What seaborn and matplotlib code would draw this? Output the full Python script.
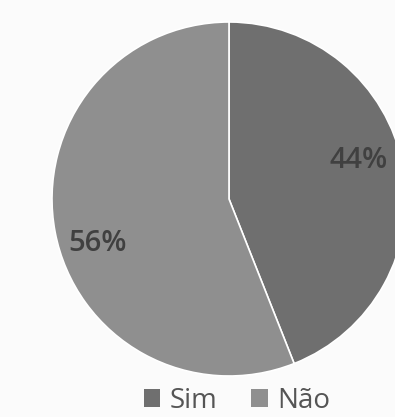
import matplotlib
matplotlib.use("Agg")
import matplotlib.pyplot as plt
import seaborn as sns

# Survey answers
categories = ["Sim", "Não"]
shares = [44, 56]
slice_colors = ["#6f6f6f", "#8f8f8f"]

sns.set_style("white")
plt.rcParams["font.family"] = ["Open Sans", "DejaVu Sans"]

fig = plt.figure(figsize=(3.95, 4.17), dpi=100)
fig.patch.set_facecolor("#fbfbfb")

# Square axes, pie of radius 1 fills it; right side runs past the figure edge
ax = fig.add_axes([52 / 395, 41 / 417, 354 / 395, 354 / 417])
ax.set_facecolor("none")

wedges, texts, autotexts = ax.pie(
    shares,
    colors=slice_colors,
    startangle=90,
    counterclock=False,
    autopct=lambda p: f"{p:.0f}%",
    pctdistance=0.75,
    wedgeprops=dict(edgecolor="white", linewidth=1.2),
    textprops=dict(color="#404040", fontsize=21, fontweight="semibold"),
    radius=1.0,
)
ax.set_xlim(-1, 1)
ax.set_ylim(-1, 1)
ax.set_aspect("equal")
ax.axis("off")
for w in wedges:
    w.set_clip_on(False)

# Label placement
autotexts[0].set_position((0.73, 0.215))
autotexts[1].set_position((-0.74, -0.25))

leg = fig.legend(
    wedges,
    categories,
    loc="center",
    bbox_to_anchor=(237 / 395, 1 - 401 / 417),
    ncol=2,
    frameon=False,
    fontsize=20,
    handlelength=0.6,
    handleheight=0.6,
    handletextpad=0.35,
    columnspacing=1.2,
    labelcolor="#555555",
    borderpad=0.1,
)
for h in leg.legend_handles:
    h.set_edgecolor("none")

fig.savefig("out.png", dpi=100, facecolor=fig.get_facecolor())
